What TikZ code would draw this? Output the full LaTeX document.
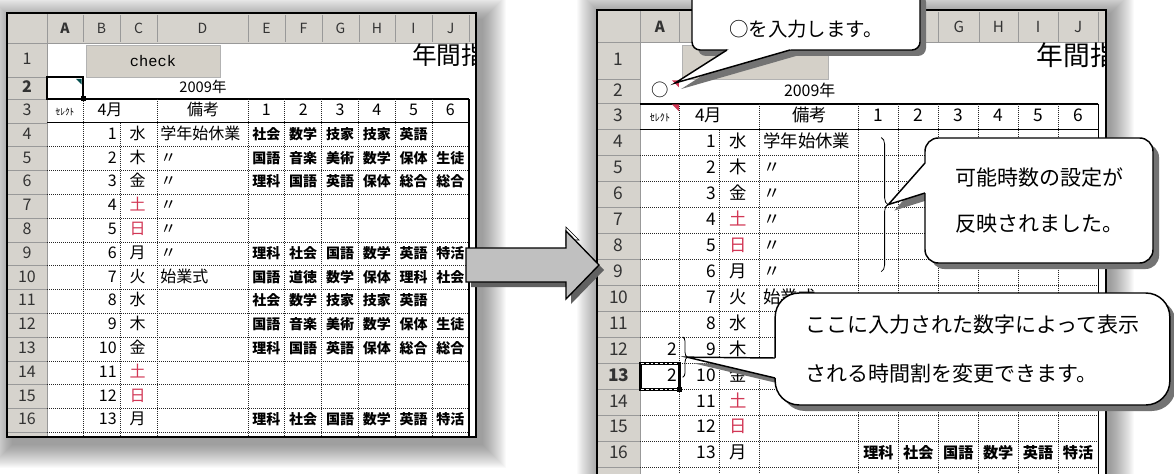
\documentclass[tikz,border=0pt]{standalone}
\usepackage{fontspec}
\setmainfont{Noto Sans CJK JP}
\newfontfamily\btnfont{Liberation Mono}
\usetikzlibrary{calc}
\usetikzlibrary{shadows}
\usetikzlibrary{decorations.pathreplacing}
\usetikzlibrary{positioning}
\definecolor{hdrgray}{RGB}{214,211,205}
\definecolor{btngray}{RGB}{212,208,200}
\definecolor{holiday}{RGB}{210,55,85}
\definecolor{arrowgray}{RGB}{192,192,192}
\tikzset{
	cell/.style={
		inner sep=0pt,
		text height=0.8em,
		text depth=0.15em,
		font=\fontsize{12pt}{14pt}\selectfont,
	},
	subj/.style={cell, font=\bfseries\fontsize{10.5pt}{12pt}\selectfont},
	colhdr/.style={cell, text=black!80, font=\fontsize{10.5pt}{12pt}\selectfont},
	rowhdr/.style={cell, text=black!80, font=\fontsize{12pt}{14pt}\selectfont},
	hdrsep/.style={draw=black!40, line width=0.6pt},
	dotline/.style={black!85, line width=0.75pt, dash pattern=on 0.75pt off 0.75pt},
	sheetframe/.style={draw=black, line width=1.5pt},
	button/.style={
		fill=btngray, draw=black!30, line width=0.5pt, inner sep=0pt,
		minimum width=100.5pt, minimum height=24pt,
		font=\btnfont\fontsize{11.5pt}{13pt}\selectfont,
	},
	bubble/.style={
		draw=black, line width=1.1pt, fill=white, rectangle, inner sep=0pt,
		font=\fontsize{15.75pt}{18pt}\selectfont,
		drop shadow={shadow xshift=4.5pt, shadow yshift=-4.5pt, fill=black!55, opacity=1},
	},
	bubbleline/.style={draw=black, line width=1.1pt, line join=miter},
	bubbleshade/.style={fill=black!55},
	bigarrow/.style={fill=arrowgray, draw=black, line width=1pt},
	arrowshade/.style={fill=black!62},
	glow/.style={fill=black, opacity=0.02},
}

% one spreadsheet window, in its own pixel frame
\newcommand{\sheetbase}[4]{%
	\begin{scope}
		\clip (0,0) rectangle (469,#2);
		\fill[white] (0,0) rectangle (469,#2);
		\fill[hdrgray] (0,0) rectangle (469,30);
		\fill[hdrgray] (0,30) rectangle (40,#2);
		\draw[hdrsep] (0,30) -- (469,30);
		\draw[hdrsep] (40,0) -- (40,#2);
		\node[colhdr, font=\bfseries\fontsize{10.5pt}{12pt}\selectfont] (#1-colA) at (58,16) {A};
		\foreach \cl/\xa/\xb in {B/76/113,C/113/150,D/150/241,E/241/278,F/278/315,G/315/352,H/352/388,I/388/425,J/425/462,K/462/499} {
			\draw[hdrsep] (\xa,2) -- (\xa,29);
			\node[colhdr] (#1-col\cl) at ({(\xa+\xb)/2},16) {\cl};
		}
		\foreach \n in {1,...,17} {
			\pgfmathsetmacro\rtop{\n==1 ? 30 : (\n==2 ? 64 : (\n==3 ? 86 : 110+(\n-4)*23.8))}
			\pgfmathsetmacro\rbot{\n==1 ? 64 : (\n==2 ? 86 : (\n==3 ? 110 : 110+(\n-3)*23.8))}
			\draw[hdrsep] (0,\rbot) -- (40,\rbot);
			\ifnum\n<17
				\node[rowhdr] (#1-row\n) at (20,{(\rtop+\rbot)/2}) {\ifnum\n=#3\bfseries\fi\n};
			\fi
		}
		% table lines
		\draw[line width=1.3pt] (40,86) -- (462,86);
		\draw[line width=0.75pt] (40,110) -- (462,110);
		\foreach \x in {76,150,241,277.8,314.6,351.4,388.2,425}
			\draw[dotline] (\x,86) -- (\x,#2);
		\draw[dotline] (113,110) -- (113,#2);
		\foreach \k in {1,...,14}
			\draw[dotline] (40,{110+\k*23.8}) -- (462,{110+\k*23.8});
		\draw[line width=1pt] (462,86) -- (462,#2);
		% texts
		\node[button] (#1-button) at (146,48) {#4};
		\node[cell, anchor=west, font=\fontsize{18.5pt}{20pt}\selectfont] (#1-title) at (405,47) {年間指};
		\node[cell, font=\fontsize{11pt}{13pt}\selectfont] (#1-year) at (196,75) {2009年};
		\node[cell, font=\fontsize{7pt}{8pt}\selectfont] (#1-select) at (58,98) {ｾﾚｸﾄ};
		\node[cell] (#1-month) at (103,98) {4月};
		\node[cell] (#1-memo) at (196,98) {備考};
		\foreach \p in {1,...,6}
			\node[cell] (#1-period\p) at ({241+(\p-0.5)*36.8},98) {\p};
		\foreach \dy/\w/\m/\wc [count=\k from 0] in {1/水/学年始休業/black, 2/木/〃/black, 3/金/〃/black,
				4/土/〃/holiday, 5/日/〃/holiday, 6/月/〃/black, 7/火/始業式/black, 8/水//black,
				9/木//black, 10/金//black, 11/土//holiday, 12/日//holiday, 13/月//black} {
			\pgfmathsetmacro\ry{121.9+\k*23.8}
			\node[cell, anchor=east] (#1-day\dy) at (110,\ry) {\dy};
			\node[cell, text=\wc] (#1-wday\dy) at (130.5,\ry) {\w};
			\node[cell, anchor=west] (#1-memo\dy) at (153,\ry) {\m};
		}
	\end{scope}
	\draw[sheetframe] (0,0) rectangle (469,#2);
}

% one row of periods 1-6
\newcommand{\subjects}[3]{%
	\foreach \s [count=\p] in {#3}
		\node[subj] (#1-s#2-\p) at ({241+(\p-0.5)*36.8},{121.9+(#2-4)*23.8}) {\s};
}

% speech bubble with its pointer
\newcommand{\hintbubble}[6]{%
	\fill[bubbleshade] ($(#4)+(6,6)$) -- ($(#6)+(6,6)$) -- ($(#5)+(6,6)$) -- cycle;
	\node[bubble, #2] (#1) {#3};
	\fill[white] (#4) -- ($(#4)!2.5pt!(#1.center)$) -- ($(#5)!2.5pt!(#1.center)$) -- (#5) -- (#6) -- cycle;
	\draw[bubbleline] (#4) -- (#6) -- (#5);
}

\begin{document}
\begin{tikzpicture}[x=0.75pt, y=-0.75pt]
	\useasboundingbox (0,0) rectangle (1174,474);
	\clip (0,0) rectangle (1174,474);

	% soft shadows of the windows
	\foreach \i in {1,...,24} {
		\fill[glow] ({13-\i},{20-\i}) rectangle ({482+\i},{444+\i});
		\fill[glow] ({601-\i},{14-\i}) rectangle ({1110+\i},{500+\i});
	}

	% before
	\begin{scope}[shift={(7,13)}]
		\sheetbase{L}{424}{2}{check}
		\subjects{L}{4}{社会,数学,技家,技家,英語}
		\subjects{L}{5}{国語,音楽,美術,数学,保体,生徒}
		\subjects{L}{6}{理科,国語,英語,保体,総合,総合}
		\subjects{L}{9}{理科,社会,国語,数学,英語,特活}
		\subjects{L}{10}{国語,道徳,数学,保体,理科,社会}
		\subjects{L}{11}{社会,数学,技家,技家,英語}
		\subjects{L}{12}{国語,音楽,美術,数学,保体,生徒}
		\subjects{L}{13}{理科,国語,英語,保体,総合,総合}
		\subjects{L}{16}{理科,社会,国語,数学,英語,特活}
		\draw[line width=1.8pt] (40,64) rectangle (76,86);
		\fill[teal!60!black] (69,66) -- (74.5,66) -- (74.5,71.5) -- cycle;
		\fill (73.5,83.5) rectangle (78.5,88.5);
	\end{scope}

	% after
	\begin{scope}[shift={(597,10)}, xscale=1.085, yscale=1.09, transform shape]
		\sheetbase{R}{440}{13}{}
		\subjects{R}{16}{理科,社会,国語,数学,英語,特活}
		\node[cell] (R-mark) at (58,75) {○};
		\fill[holiday] (69,64.5) -- (75.5,64.5) -- (75.5,71) -- cycle;
		\fill[holiday] (69,86.5) -- (75.5,86.5) -- (75.5,93) -- cycle;
		\node[cell, anchor=east] (R-count12) at (74,{121.9+8*23.8}) {2};
		\node[cell, anchor=east] (R-count13) at (74,{121.9+9*23.8}) {2};
		\draw[line width=1.8pt] (40,324.2) rectangle (76,348);
		\draw[white, line width=0.9pt, dash pattern=on 2pt off 1.5pt] (41,324.2) -- (75,324.2) (41,348) -- (75,348);
		\fill (73.5,345.5) rectangle (78.5,350.5);
		\draw[line width=0.6pt, decorate, decoration={brace, amplitude=5pt}] (262,117) -- (262,240);
		\coordinate (R-brace1) at (268.5,178.5);
		\draw[line width=0.6pt, decorate, decoration={brace, amplitude=3.5pt}] (79,300) -- (79,337);
		\coordinate (R-brace2) at (83,318.5);
		\coordinate (R-corner) at (72,67);
	\end{scope}

	% mouse pointer and the big arrow
	\draw[fill=white, line width=0.5pt] (566,227) -- (566,245) -- (570,241) -- (573,248) -- (576,247) -- (573,240) -- (579,240) -- cycle;
	\foreach \dx/\sty in {5/arrowshade, 0/bigarrow}
		\path[\sty, shift={(\dx,\dx)}] (466,248) -- (566,248) -- (566,231) -- (599,265) -- (566,299) -- (566,282) -- (466,282) -- cycle;

	% bubbles
	\hintbubble{hint1}{at={(806,19)}, minimum width=171pt, rounded corners=6pt,
		text height=36.75pt, text depth=9.75pt, font=\fontsize{14.6pt}{16pt}\selectfont}%
		{○を入力します。}{727,50}{790,50}{R-corner}
	\hintbubble{hint2}{at={(1039,200.5)}, minimum width=171pt, minimum height=93.75pt, rounded corners=10pt,
		align=center, font=\fontsize{15.75pt}{35pt}\selectfont}%
		{可能時数の設定が\\反映されました。}{925,163}{925,193}{R-brace1}
	\hintbubble{hint3}{at={(972.5,349)}, minimum width=296pt, minimum height=84pt, rounded corners=18pt,
		align=left, font=\fontsize{15.75pt}{36.75pt}\selectfont}%
		{ここに入力された数字によって表示\\される時間割を変更できます。}{775,358}{775,378}{R-brace2}
\end{tikzpicture}
\end{document}
